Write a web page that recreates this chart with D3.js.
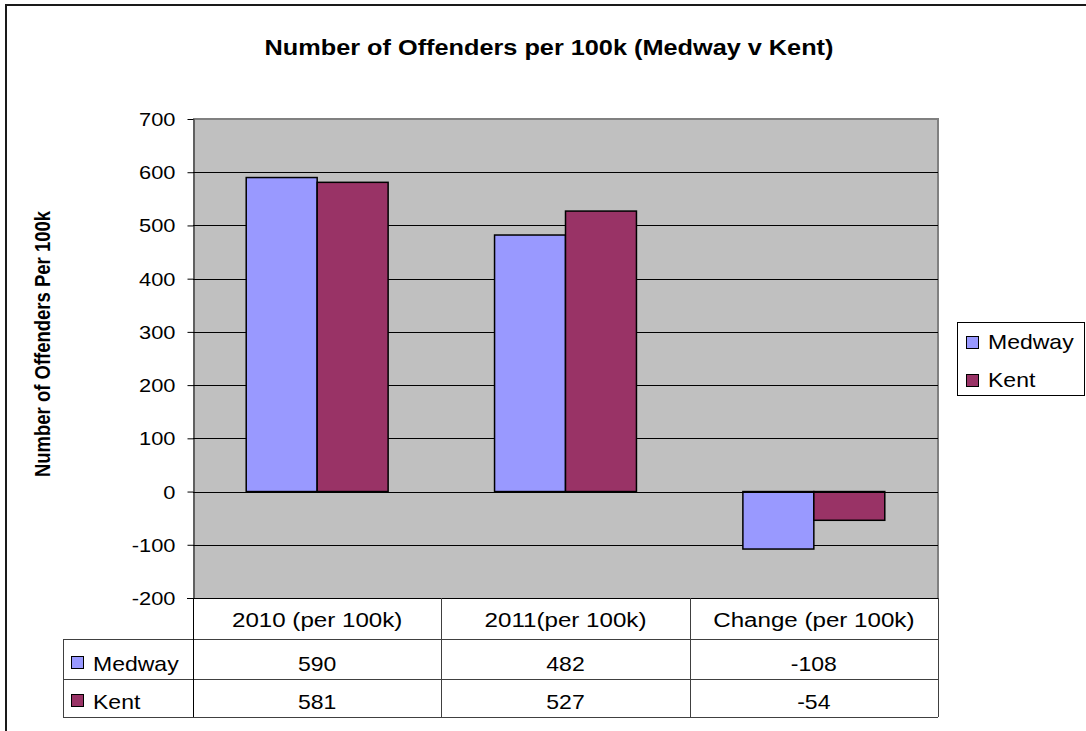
<!DOCTYPE html>
<html lang="en">
<head>
<meta charset="utf-8">
<title>Offenders per 100k</title>
<script src="https://cdn.jsdelivr.net/npm/d3@7"></script>
<style>
  body { margin: 0; background: #fff; }
  text { font-family: "Liberation Sans", Arial, sans-serif; fill: #000; }
</style>
</head>
<body>
<svg id="chart" width="1086" height="731"></svg>
<script>
// data
var categories = ["2010 (per 100k)", "2011(per 100k)", "Change (per 100k)"];
var seriesNames = ["Medway", "Kent"];
var medway = [590, 482, -108];
var kent = [581, 527, -54];
var yTicks = [-200, -100, 0, 100, 200, 300, 400, 500, 600, 700];

var colors = {Medway: "#9999ff", Kent: "#993366"};
var values = {Medway: medway, Kent: kent};

var svg = d3.select("#chart"),
    plot = {left: 193, right: 938, top: 119, bottom: 598},
    sx = 1.15; // the original text looks stretched sideways

// text helper: horizontally stretched text
function stext(g, x, y, txt, size, anchor, bold, rot) {
  return g.append("text")
    .attr("transform", `translate(${x},${y}) scale(${sx},1)` + (rot ? " rotate(-90)" : ""))
    .attr("font-size", size + "px")
    .attr("font-weight", bold ? "bold" : "normal")
    .attr("text-anchor", anchor)
    .text(txt);
}

// outer frame
svg.append("rect")
  .attr("x", 6).attr("y", 5)
  .attr("width", 1100).attr("height", 760)
  .attr("fill", "none")
  .attr("stroke", "#1a1a1a")
  .attr("stroke-width", 2);

var y = d3.scaleLinear()
  .domain([-200, 700])
  .range([plot.bottom, plot.top]);

var x = d3.scaleBand()
  .domain(categories)
  .range([plot.left, plot.right])
  .padding(0);

var xs = d3.scaleBand()
  .domain(seriesNames)
  .range([0, x.bandwidth()])
  .paddingInner(0)
  .paddingOuter(0.75);

// plot background
svg.append("rect")
  .attr("x", plot.left).attr("y", plot.top)
  .attr("width", plot.right - plot.left)
  .attr("height", plot.bottom - plot.top)
  .attr("fill", "#c0c0c0");

// plot border top / right
svg.append("path")
  .attr("d", `M${plot.left},${plot.top}H${plot.right}V${plot.bottom}`)
  .attr("fill", "none")
  .attr("stroke", "#808080")
  .attr("stroke-width", 2);

// gridlines
svg.selectAll("line.grid")
  .data(yTicks.filter(d => d > -200 && d < 700))
  .enter().append("line")
  .attr("class", "grid")
  .attr("x1", plot.left).attr("x2", plot.right)
  .attr("y1", d => Math.round(y(d)) + 0.5)
  .attr("y2", d => Math.round(y(d)) + 0.5)
  .attr("stroke", "#000")
  .attr("stroke-width", 1);

// bars
var groups = svg.selectAll("g.cat")
  .data(categories)
  .enter().append("g")
  .attr("class", "cat")
  .attr("transform", d => `translate(${x(d)},0)`);

groups.selectAll("rect")
  .data((c, i) => seriesNames.map(s => ({s: s, v: values[s][i]})))
  .enter().append("rect")
  .attr("x", d => xs(d.s))
  .attr("y", d => y(Math.max(0, d.v)))
  .attr("width", xs.bandwidth())
  .attr("height", d => Math.abs(y(d.v) - y(0)))
  .attr("fill", d => colors[d.s])
  .attr("stroke", "#000")
  .attr("stroke-width", 1.5);

// y axis
var yAxis = svg.append("g")
  .attr("transform", `translate(${plot.left + 0.5},0)`)
  .call(d3.axisLeft(y).tickValues(yTicks).tickSize(6).tickSizeOuter(0)
    .tickPadding(18).tickFormat(d => String(d)));

yAxis.select(".domain").attr("stroke", "#000");
yAxis.selectAll(".tick line").attr("stroke", "#000");
yAxis.selectAll(".tick text")
  .attr("x", null)
  .attr("dy", "0.34em")
  .attr("transform", `translate(-18,0) scale(${sx},1)`)
  .attr("font-size", "19px")
  .attr("font-family", "Liberation Sans, Arial, sans-serif");

// zero (category axis) line
svg.append("line")
  .attr("x1", plot.left).attr("x2", plot.right)
  .attr("y1", Math.round(y(0)) + 0.5).attr("y2", Math.round(y(0)) + 0.5)
  .attr("stroke", "#000");

// bottom axis line
svg.append("line")
  .attr("x1", plot.left - 6).attr("x2", plot.right)
  .attr("y1", plot.bottom + 0.5).attr("y2", plot.bottom + 0.5)
  .attr("stroke", "#000");

// data table
var table = {left: 63, rows: [plot.bottom, 639, 679, 717]};
var tg = svg.append("g").attr("stroke", "#404040").attr("stroke-width", 1);

// horizontal lines
[1, 2, 3].forEach(function(r) {
  tg.append("line")
    .attr("x1", table.left).attr("x2", plot.right)
    .attr("y1", table.rows[r] + 0.5).attr("y2", table.rows[r] + 0.5);
});
// left edge of the series labels
tg.append("line")
  .attr("x1", table.left + 0.5).attr("x2", table.left + 0.5)
  .attr("y1", table.rows[1]).attr("y2", table.rows[3]);
// column lines
var colEdges = categories.map(c => x(c)).concat([plot.right]);
colEdges.forEach(function(cx, i) {
  tg.append("line")
    .attr("x1", Math.round(cx) + 0.5).attr("x2", Math.round(cx) + 0.5)
    .attr("y1", table.rows[0]).attr("y2", table.rows[3])
    .attr("stroke", i == 0 ? "#000" : "#404040");
});

// header texts
categories.forEach(function(c) {
  stext(svg, x(c) + x.bandwidth() / 2, 627, c, 21, "middle");
});

// value rows
seriesNames.forEach(function(s, r) {
  var base = r == 0 ? 671 : 709;
  svg.append("rect")
    .attr("x", 71.5).attr("y", base - 14.5)
    .attr("width", 12).attr("height", 12)
    .attr("fill", colors[s])
    .attr("stroke", "#000").attr("stroke-width", 1);
  stext(svg, 93, base, s, 20, "start");
  categories.forEach(function(c, i) {
    stext(svg, x(c) + x.bandwidth() / 2, base, values[s][i], 20, "middle");
  });
});

// legend
var lg = svg.append("g");
lg.append("rect")
  .attr("x", 957.5).attr("y", 322.5)
  .attr("width", 127).attr("height", 73)
  .attr("fill", "#fff")
  .attr("stroke", "#000");

seriesNames.forEach(function(s, i) {
  var base = 349 + i * 38;
  lg.append("rect")
    .attr("x", 966.5).attr("y", base - 12.5)
    .attr("width", 12).attr("height", 12)
    .attr("fill", colors[s])
    .attr("stroke", "#000");
  stext(lg, 988, base, s, 20, "start");
});

// titles
stext(svg, 549, 55, "Number of Offenders per 100k (Medway v Kent)", 22, "middle", true);
stext(svg, 50, 344, "Number of Offenders Per 100k", 18.5, "middle", true, true);
</script>
</body>
</html>
